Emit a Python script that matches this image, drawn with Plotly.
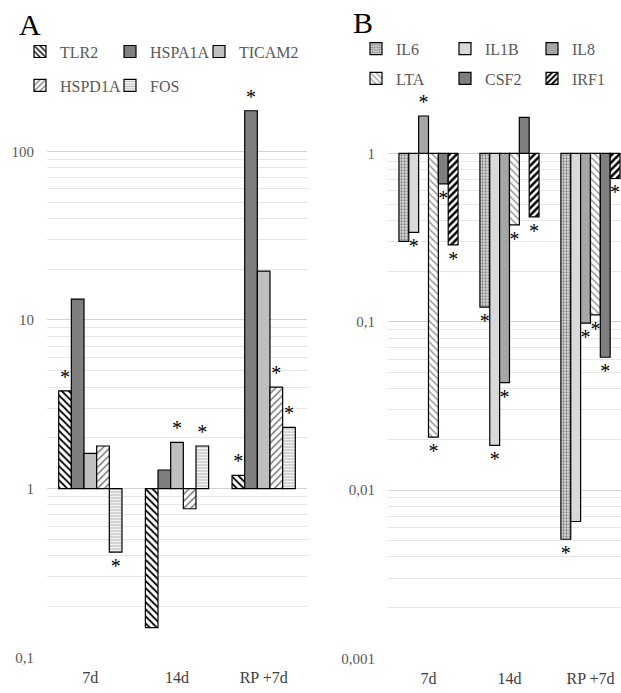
import math
import plotly.graph_objects as go

W, H = 621, 693

# ---------------- data ----------------
categories = ["7d", "14d", "RP +7d"]

# Panel A (fold change, log scale)
a_series = ["TLR2", "HSPA1A", "TICAM2", "HSPD1A", "FOS"]
tlr2 = [3.8, 0.15, 1.2]
hspa1a = [13.3, 1.29, 174]
ticam2 = [1.62, 1.88, 19.5]
hspd1a = [1.79, 0.76, 4.0]
fos = [0.42, 1.79, 2.31]
a_values = [tlr2, hspa1a, ticam2, hspd1a, fos]
a_sig = [
    [True, False, True],    # TLR2
    [False, False, True],   # HSPA1A
    [False, True, False],   # TICAM2
    [False, False, True],   # HSPD1A
    [True, True, True],     # FOS
]

# Panel B
b_series = ["IL6", "IL1B", "IL8", "LTA", "CSF2", "IRF1"]
il6 = [0.30, 0.122, 0.0051]
il1b = [0.34, 0.0184, 0.0065]
il8 = [1.67, 0.0435, 0.098]
lta = [0.0206, 0.376, 0.11]
csf2 = [0.66, 1.64, 0.0615]
irf1 = [0.286, 0.42, 0.71]
b_values = [il6, il1b, il8, lta, csf2, irf1]
b_sig = [
    [False, True, True],    # IL6
    [True, True, False],    # IL1B
    [True, True, True],     # IL8
    [True, True, True],     # LTA
    [True, False, True],    # CSF2
    [True, True, True],     # IRF1
]

a_ticks = [0.1, 1, 10, 100]
a_ticktext = ["0,1", "1", "10", "100"]
b_ticks = [0.001, 0.01, 0.1, 1]
b_ticktext = ["0,001", "0,01", "0,1", "1"]

SERIF = "Liberation Serif, Times New Roman, serif"

# ---------------- styles ----------------
def solid(c):
    return dict(color=c)

def patt(shape, fg, bg, size, sol):
    return dict(color=bg, pattern=dict(shape=shape, fgcolor=fg, bgcolor=bg,
                                       size=size, solidity=sol, fillmode="replace"))

a_styles = [
    patt("\\", "#000000", "#ffffff", 5, 0.35),
    solid("#7f7f7f"),
    solid("#bfbfbf"),
    patt("/", "#7a7a7a", "#ffffff", 5, 0.3),
    patt("-", "#b5b5b5", "#ffffff", 3, 0.45),
]
b_styles = [
    patt(".", "#6f6f6f", "#d6d6d6", 3, 0.35),
    solid("#d9d9d9"),
    solid("#a6a6a6"),
    patt("\\", "#9a9a9a", "#ffffff", 5, 0.3),
    solid("#7f7f7f"),
    patt("/", "#000000", "#ffffff", 5, 0.5),
]
# legend columns (each a vertical legend)
a_legend = ["legend", "legend2", "legend3", "legend", "legend2"]
b_legend = ["legend4", "legend5", "legend6", "legend4", "legend5", "legend6"]

fig = go.Figure()
star_font = dict(family=SERIF, size=20, color="#000000")

def add_panel(names, values, sigs, styles, legends, xa, ya):
    for name, vals, sig, st, lg in zip(names, values, sigs, styles, legends):
        marker = dict(st)
        marker["line"] = dict(color="#000000", width=1.2)
        fig.add_trace(go.Bar(
            name=name,
            legendgroup=name,
            x=categories,
            y=[v - 1 for v in vals],
            base=1,
            marker=marker,
            text=["*" if s else "" for s in sig],
            textposition="outside",
            textfont=star_font,
            outsidetextfont=star_font,
            constraintext="none",
            cliponaxis=False,
            xaxis=xa, yaxis=ya,
            legend=lg,
            hovertemplate=name + " %{x}<extra></extra>",
        ))

add_panel(a_series, a_values, a_sig, a_styles, a_legend, "x", "y")
add_panel(b_series, b_values, b_sig, b_styles, b_legend, "x2", "y2")

tickfont = dict(family=SERIF, size=15, color="#595959")
xtickfont = dict(family=SERIF, size=16, color="#404040")
gridc = "#d4d4d4"
minorc = "#e6e6e6"

common_y = dict(type="log", tickmode="array", showline=False, ticks="",
                showgrid=True, gridcolor=gridc, gridwidth=1.3,
                minor=dict(showgrid=True, gridcolor=minorc, gridwidth=1, dtick="D1"),
                tickfont=tickfont, ticklabelstandoff=12, zeroline=False)
common_x = dict(type="category", showline=False, ticks="", showgrid=False,
                tickfont=xtickfont, ticklabelstandoff=9, zeroline=False)

fig.update_layout(
    width=W, height=H,
    margin=dict(l=0, r=0, t=0, b=0),
    paper_bgcolor="#ffffff", plot_bgcolor="#ffffff",
    barmode="group", bargap=0.27, bargroupgap=0,
    font=dict(family=SERIF, color="#595959"),
    xaxis=dict(common_x, domain=[47 / W, 307 / W], anchor="y", range=[-0.5, 2.5]),
    yaxis=dict(common_y, domain=[(H - 665) / H, (H - 101.7) / H], anchor="x",
               range=[math.log10(0.1), math.log10(200)],
               tickvals=a_ticks, ticktext=a_ticktext),
    xaxis2=dict(common_x, domain=[388 / W, 1.0], anchor="y2", range=[-0.5, 2.377]),
    yaxis2=dict(common_y, domain=[(H - 666) / H, (H - 104) / H], anchor="x2",
                range=[math.log10(0.001), math.log10(2)],
                tickvals=b_ticks, ticktext=b_ticktext),
    showlegend=True,
)

legfont = dict(family=SERIF, size=16, color="#595959")
def leg(x, y, gap):
    return dict(orientation="v", x=x, y=y, xanchor="left", yanchor="top",
                font=legfont, bgcolor="rgba(0,0,0,0)", borderwidth=0,
                itemwidth=30, tracegroupgap=gap, traceorder="grouped",
                itemclick=False, itemdoubleclick=False)

a_top = (H - 35) / H
b_top = (H - 32) / H
fig.update_layout(
    legend=leg(20 / W, a_top, 10),
    legend2=leg(110 / W, a_top, 10),
    legend3=leg(199 / W, a_top, 10),
    legend4=leg(356 / W, b_top, 6),
    legend5=leg(445 / W, b_top, 6),
    legend6=leg(532 / W, b_top, 6),
)

fig.add_annotation(text="A", x=17 / W, y=(H - 25) / H, xref="paper", yref="paper",
                   showarrow=False, xanchor="left", yanchor="middle",
                   font=dict(family=SERIF, size=30, color="#000000"))
fig.add_annotation(text="B", x=351 / W, y=(H - 23) / H, xref="paper", yref="paper",
                   showarrow=False, xanchor="left", yanchor="middle",
                   font=dict(family=SERIF, size=30, color="#000000"))

fig.write_html("out.html",
               config={"displayModeBar": False},
               post_script="document.body.style.margin='0';document.body.style.overflow='hidden';")
